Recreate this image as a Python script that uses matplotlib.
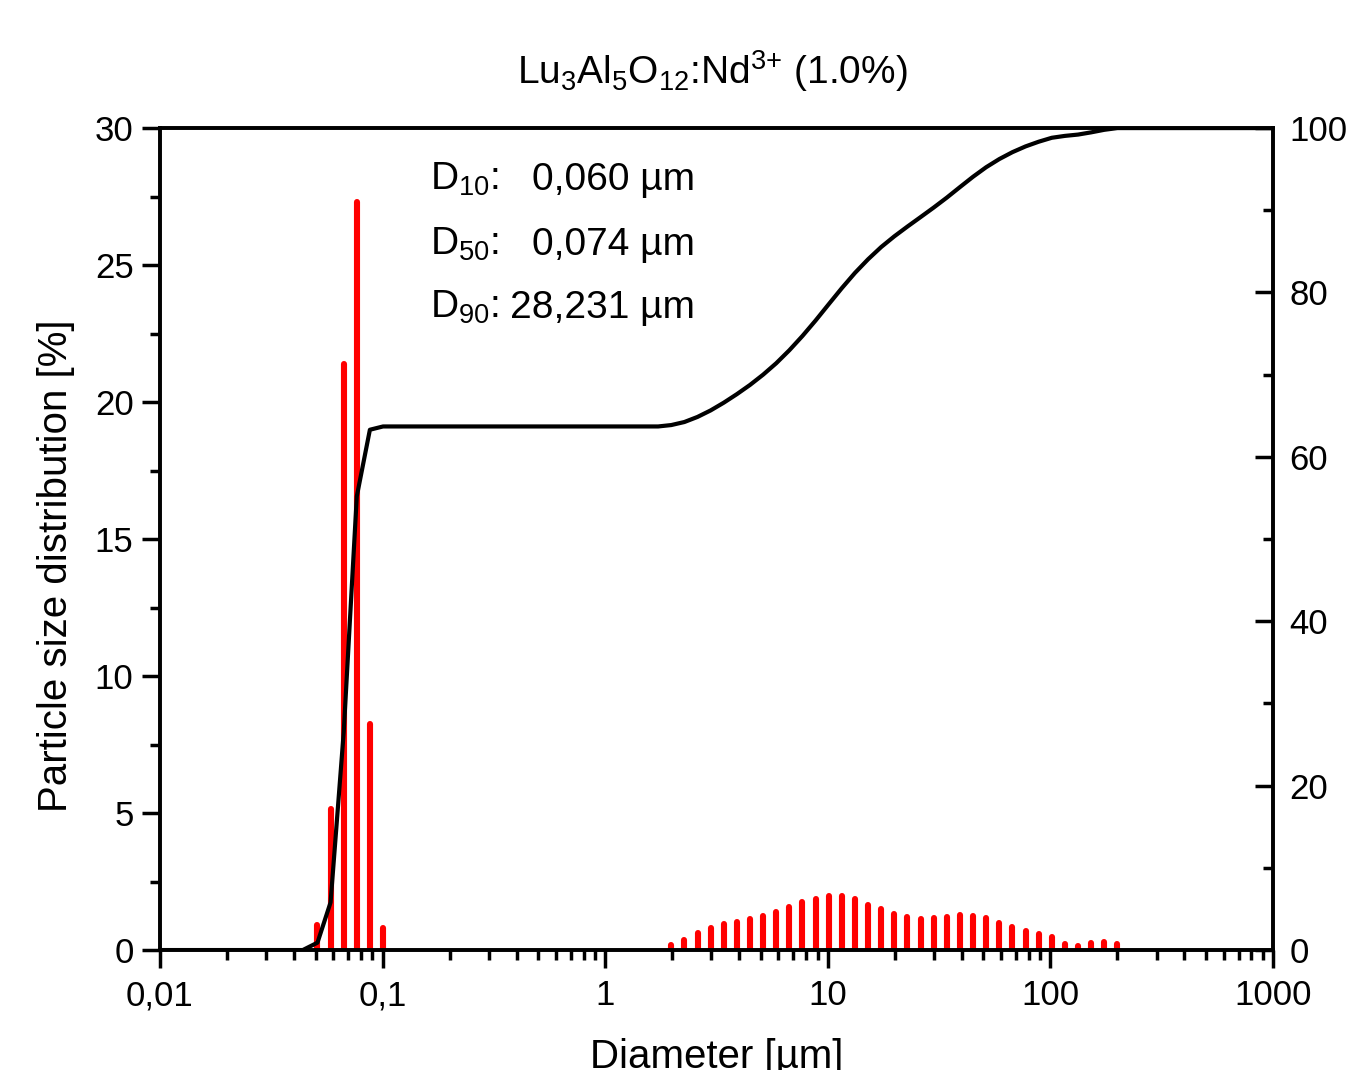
import numpy as np
import matplotlib
matplotlib.use('Agg')
import matplotlib.pyplot as plt
from matplotlib.ticker import MultipleLocator, LogLocator, NullFormatter

plt.rcParams['font.family'] = ['Liberation Sans', 'DejaVu Sans']
plt.rcParams['mathtext.fontset'] = 'custom'
plt.rcParams['mathtext.rm'] = 'Liberation Sans'
plt.rcParams['mathtext.it'] = 'Liberation Sans:italic'
plt.rcParams['mathtext.default'] = 'regular'

# channel diameters [um] with non-zero fraction
diam_fine = [0.0510, 0.0584, 0.0669, 0.0766, 0.0877, 0.1005]
dist_fine = [0.9, 5.15, 21.4, 27.3, 8.25, 0.8]

diam_coarse = [1.981, 2.269, 2.599, 2.976, 3.409, 3.905, 4.472, 5.122, 5.866,
               6.719, 7.696, 8.815, 10.097, 11.565, 13.246, 15.172, 17.377,
               19.904, 22.797, 26.111, 29.907, 34.255, 39.234, 44.938, 51.471,
               58.953, 67.523, 77.339, 88.583, 101.46, 116.21, 133.1, 152.45,
               174.62, 200.0]
dist_coarse = [0.17, 0.37, 0.62, 0.79, 0.94, 1.04, 1.12, 1.25, 1.39, 1.58,
               1.74, 1.88, 1.98, 1.96, 1.85, 1.66, 1.49, 1.30, 1.19, 1.15,
               1.16, 1.21, 1.28, 1.26, 1.16, 0.99, 0.84, 0.70, 0.57, 0.48,
               0.23, 0.16, 0.27, 0.31, 0.21]

# cumulative curve [%]
cum_diam = [0.01, 0.0115, 0.0200, 0.0296, 0.0383, 0.0438,
            0.0510, 0.0584, 0.0669, 0.0766, 0.0877, 0.1005,
            0.1510, 0.2599, 0.4472, 0.7696, 1.3246, 1.7297] + diam_coarse + [300.0, 500.0, 1000.0]
cum_val = [0, 0, 0, 0, 0, 0,
           0.9, 5.8, 26.5, 55.2, 63.3, 63.7,
           63.7, 63.7, 63.7, 63.7, 63.7, 63.7,
           63.87, 64.24, 64.86, 65.65, 66.59, 67.63, 68.75, 70.00, 71.39,
           72.97, 74.71, 76.59, 78.57, 80.53, 82.38, 84.04, 85.53,
           86.83, 88.02, 89.17, 90.33, 91.54, 92.82, 94.08, 95.24,
           96.23, 97.07, 97.77, 98.34, 98.82, 99.05, 99.21, 99.48,
           99.79, 100.0,
           100.0, 100.0, 100.0]

x_ticks = [0.01, 0.1, 1, 10, 100, 1000]
x_ticklabels = ['0,01', '0,1', '1', '10', '100', '1000']

title = r'Lu$_3$Al$_5$O$_{12}$:Nd$^{3{+}}$ (1.0%)'
d_names = [r'D$_{10}$:', r'D$_{50}$:', r'D$_{90}$:']
d_values = ['0,060 µm', '0,074 µm', '28,231 µm']

fig = plt.figure(figsize=(13.58, 10.70), dpi=100)
ax = fig.add_axes([0.1178, 0.1121, 0.8196, 0.7682])
ax2 = ax.twinx()

for d, h in [(diam_fine, dist_fine), (diam_coarse, dist_coarse)]:
    lc = ax.vlines(d, 0, h, colors='#ff0000', linewidth=4.4)
    lc.set_capstyle('round')

ax2.plot(cum_diam, cum_val, color='black', lw=3.0, solid_joinstyle='round')

ax.set_xscale('log')
ax.set_xlim(0.01, 1000)
ax.set_ylim(0, 30)
ax2.set_ylim(0, 100)

ax.set_xticks(x_ticks)
ax.set_xticklabels(x_ticklabels)
ax.xaxis.set_minor_locator(LogLocator(base=10, subs=range(2, 10)))
ax.xaxis.set_minor_formatter(NullFormatter())
ax.yaxis.set_major_locator(MultipleLocator(5))
ax.yaxis.set_minor_locator(MultipleLocator(2.5))
ax2.yaxis.set_major_locator(MultipleLocator(20))
ax2.yaxis.set_minor_locator(MultipleLocator(10))

ax.tick_params(axis='x', which='major', direction='out', length=13, width=2.5,
               labelsize=25, pad=8, top=False)
ax.tick_params(axis='x', which='minor', direction='out', length=7, width=2.5, top=False)
ax.tick_params(axis='y', which='major', direction='out', length=13, width=2.5,
               labelsize=25, pad=6, right=False)
ax.tick_params(axis='y', which='minor', direction='out', length=7, width=2.5, right=False)
ax2.tick_params(axis='y', which='major', direction='in', length=13, width=2.5,
                labelsize=25, pad=12)
ax2.tick_params(axis='y', which='minor', direction='in', length=7, width=2.5)

for a in (ax, ax2):
    for s in a.spines.values():
        s.set_linewidth(2.6)

ax.set_ylabel('Particle size distribution [%]', fontsize=29)
ax.yaxis.set_label_coords(-0.0764, 0.467)
ax.set_xlabel('Diameter [µm]', fontsize=29)
ax.xaxis.set_label_coords(0.5, -0.107)

fig.text(712 / 1358, (1070 - 84) / 1070, title, ha='center', va='baseline', fontsize=28)

rows_y = [0.9246, 0.8455, 0.7689]
for name, val, yy in zip(d_names, d_values, rows_y):
    ax.text(0.2426, yy, name, transform=ax.transAxes, ha='left', va='baseline', fontsize=28)
    ax.text(0.4807, yy, val, transform=ax.transAxes, ha='right', va='baseline', fontsize=28)

fig.savefig('out.png', dpi=100)
